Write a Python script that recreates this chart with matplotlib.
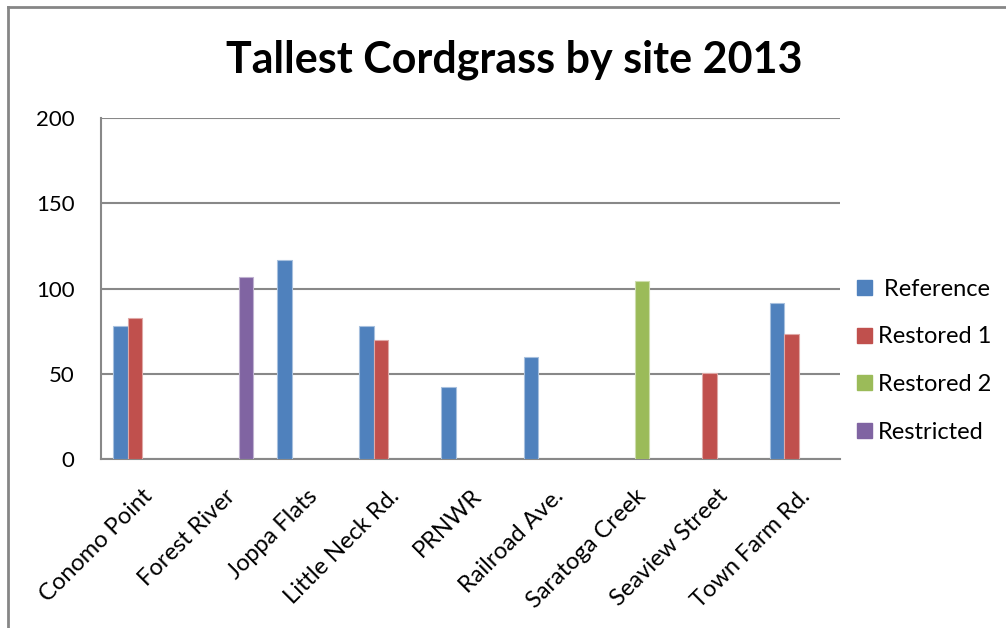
import numpy as np
import matplotlib
matplotlib.use("Agg")
import matplotlib.pyplot as plt
from matplotlib.lines import Line2D
from matplotlib.patches import Patch

plt.rcParams['font.family'] = ['Lato', 'DejaVu Sans']

sites = ["Conomo Point", "Forest River", "Joppa Flats", "Little Neck Rd.", "PRNWR",
         "Railroad Ave.", "Saratoga Creek", "Seaview Street", "Town Farm Rd."]
series_names = [" Reference", "Restored 1", "Restored 2", "Restricted"]
reference = [78, np.nan, 116.7, 78, 42, 59.7, np.nan, np.nan, 91.3]
restored1 = [82.5, np.nan, np.nan, 70, np.nan, np.nan, np.nan, 50.2, 73.3]
restored2 = [np.nan, np.nan, np.nan, np.nan, np.nan, np.nan, 104.5, np.nan, np.nan]
restricted = [np.nan, 106.7, np.nan, np.nan, np.nan, np.nan, np.nan, np.nan, np.nan]
colors = ["#4F81BD", "#C0504D", "#9BBB59", "#8064A2"]
edges = ["#A7C0DE", "#DFA8A6", "#CDDDAC", "#BFB1D0"]
yticks = [0, 50, 100, 150, 200]

fig = plt.figure(figsize=(10.06, 6.28), dpi=100)
ax = fig.add_axes([0.1004, 0.269, 0.7346, 0.543])

x = np.arange(len(sites))
w = 0.177
all_series = [reference, restored1, restored2, restricted]
for i, (vals, c, e) in enumerate(zip(all_series, colors, edges)):
    ax.bar(x + (i - 1.5) * w, vals, width=w, color=c, edgecolor=e, linewidth=0.8, zorder=3)

ax.set_xlim(-0.5, len(sites) - 0.5)
ax.set_ylim(0, 200)
ax.set_yticks(yticks)
ax.set_yticklabels([str(t) for t in yticks], fontsize=16)
ax.yaxis.grid(True, color="#888888", linewidth=1.5, zorder=0)
ax.tick_params(axis='y', length=0, pad=19)
ax.set_xticks(x)
ax.set_xticklabels(sites, rotation=45, ha='right', rotation_mode='anchor', fontsize=17)
ax.tick_params(axis='x', length=0, pad=19)
for s in ["top", "right"]:
    ax.spines[s].set_visible(False)
for s in ["left", "bottom"]:
    ax.spines[s].set_color("#888888")
    ax.spines[s].set_linewidth(1.5)

fig.text(0.511, 0.905, "Tallest Cordgrass by site 2013", ha='center', va='center',
         fontsize=31, fontweight='bold')

handles = [Patch(facecolor=c, edgecolor=c) for c in colors]
fig.legend(handles, series_names, loc='center left', bbox_to_anchor=(0.852, 0.4255),
           frameon=False, fontsize=17, handlelength=0.63, handleheight=0.6,
           handletextpad=0.25, labelspacing=1.13, borderpad=0, borderaxespad=0)

# outer chart-area border (partially cropped)
fig.add_artist(Line2D([7.5 / 1006, 7.5 / 1006], [0, 1 - 7 / 628], transform=fig.transFigure,
                      color="#868686", linewidth=2))
fig.add_artist(Line2D([7.5 / 1006, 1], [1 - 7 / 628, 1 - 7 / 628], transform=fig.transFigure,
                      color="#868686", linewidth=2))

fig.savefig("out.png", dpi=100)
